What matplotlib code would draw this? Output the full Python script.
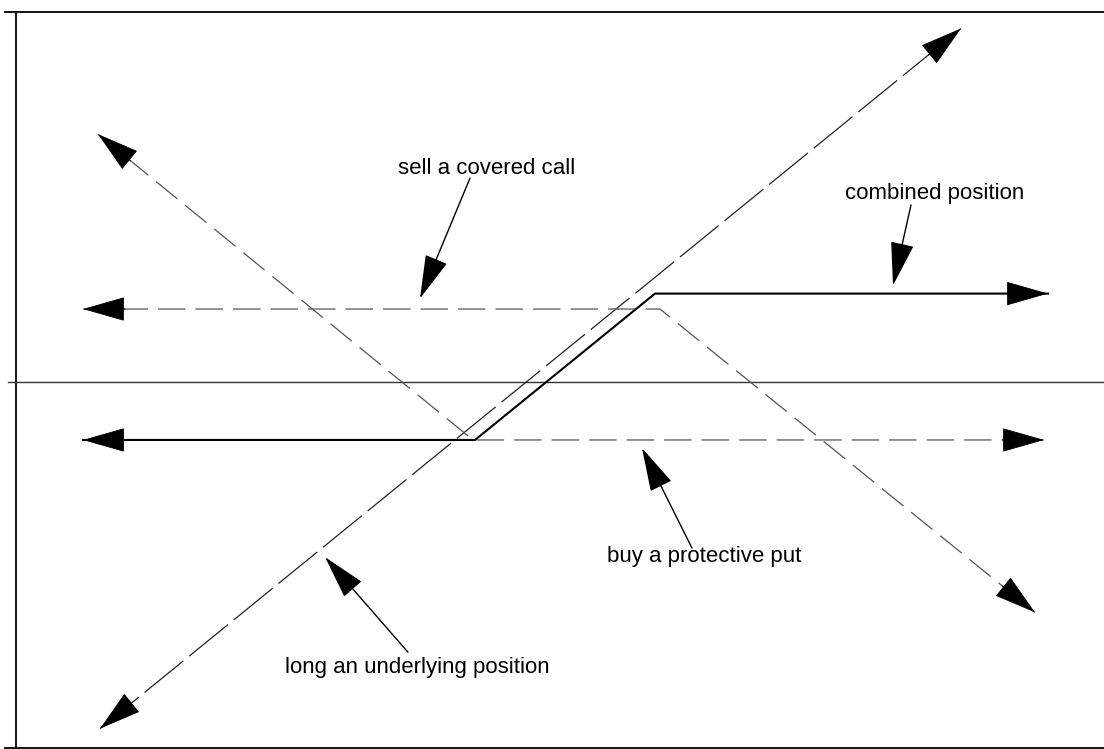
"""
Collar: long underlying + protective put + covered call, payoff sketch
"""
import numpy as np
import matplotlib.pyplot as plt

# price (x) and payoff (y) of each position, first/last point are arrow tips
long_S = [8.5, 94.6]
long_P = [-42.6, 43.5]
put_S = [8.3, 45.8, 102.9]
put_P = [30.5, -7.1, -7.1]
call_S = [6.8, 64.5, 102.0]
call_P = [9.0, 9.0, -28.3]
comb_S = [6.8, 46.0, 64.0, 103.3]
comb_P = [-7.1, -7.1, 10.9, 10.9]

# frame of the sketch
frame_S = [0.1, 0.1, -1.0, 108.9]
frame_P = [-45.0, 45.5]
zero_S = [-0.7, 108.9]

# labels: text, text anchor, pointer start, pointer tip
label_txt = ['sell a covered call', 'combined position',
             'buy a protective put', 'long an underlying position']
label_pos = [(38.3, 25.6), (83.0, 22.5), (59.2, -22.1), (27.0, -35.8)]
ptr_start = [(45.5, 25.1), (89.6, 21.8), (67.7, -20.4), (39.3, -33.2)]
ptr_tip = [(40.5, 10.3), (87.8, 11.9), (62.7, -8.1), (31.0, -21.5)]

plt.rcParams['font.family'] = ['Liberation Sans', 'DejaVu Sans']

fig = plt.figure(figsize=(11.04, 7.49), dpi=100)
ax = fig.add_axes([0, 0, 1, 1])
ax.set_xlim(-1.5, 108.9)
ax.set_ylim(-45.1, 47.0)
ax.axis('off')


def head(tip, back):
    # filled arrow head at the end of a line
    p1 = ax.transData.transform(tip)
    p0 = ax.transData.transform(back)
    v = (p0 - p1) / np.hypot(*(p0 - p1))
    start = ax.transData.inverted().transform(p1 + v * 42)
    ax.annotate('', xy=tip, xytext=start,
                arrowprops=dict(arrowstyle='-|>,head_length=2.8,head_width=0.8',
                                mutation_scale=10, color='k', lw=0.6,
                                shrinkA=0, shrinkB=0))


# frame and zero line
ax.plot([frame_S[0], frame_S[1]], frame_P, color='k', lw=1.3)
ax.plot([frame_S[2], frame_S[3]], [frame_P[1], frame_P[1]], color='k', lw=1.3)
ax.plot([frame_S[2], frame_S[3]], [frame_P[0], frame_P[0]], color='k', lw=1.3)
ax.plot(zero_S, [0, 0], color='#333333', lw=1.0)

# positions
ax.plot(long_S, long_P, color='#222222', lw=0.9, linestyle=(0, (40, 6)))
ax.plot(put_S, put_P, color='#555555', lw=0.9, linestyle=(0, (22, 8)))
ax.plot(call_S, call_P, color='#555555', lw=0.9, linestyle=(0, (22, 8)))
ax.plot(comb_S, comb_P, color='k', lw=1.5)

for S, P in [(long_S, long_P), (put_S, put_P), (call_S, call_P), (comb_S, comb_P)]:
    head((S[0], P[0]), (S[1], P[1]))
    head((S[-1], P[-1]), (S[-2], P[-2]))

# labels with pointers
for txt, pos, st, tp in zip(label_txt, label_pos, ptr_start, ptr_tip):
    ax.text(pos[0], pos[1], txt, fontsize=16, ha='left', va='baseline', color='k')
    ax.annotate('', xy=tp, xytext=st,
                arrowprops=dict(arrowstyle='-|>,head_length=2.8,head_width=0.75',
                                mutation_scale=10, color='k', lw=1.0,
                                shrinkA=0, shrinkB=0))

fig.savefig('out.png', dpi=100)
